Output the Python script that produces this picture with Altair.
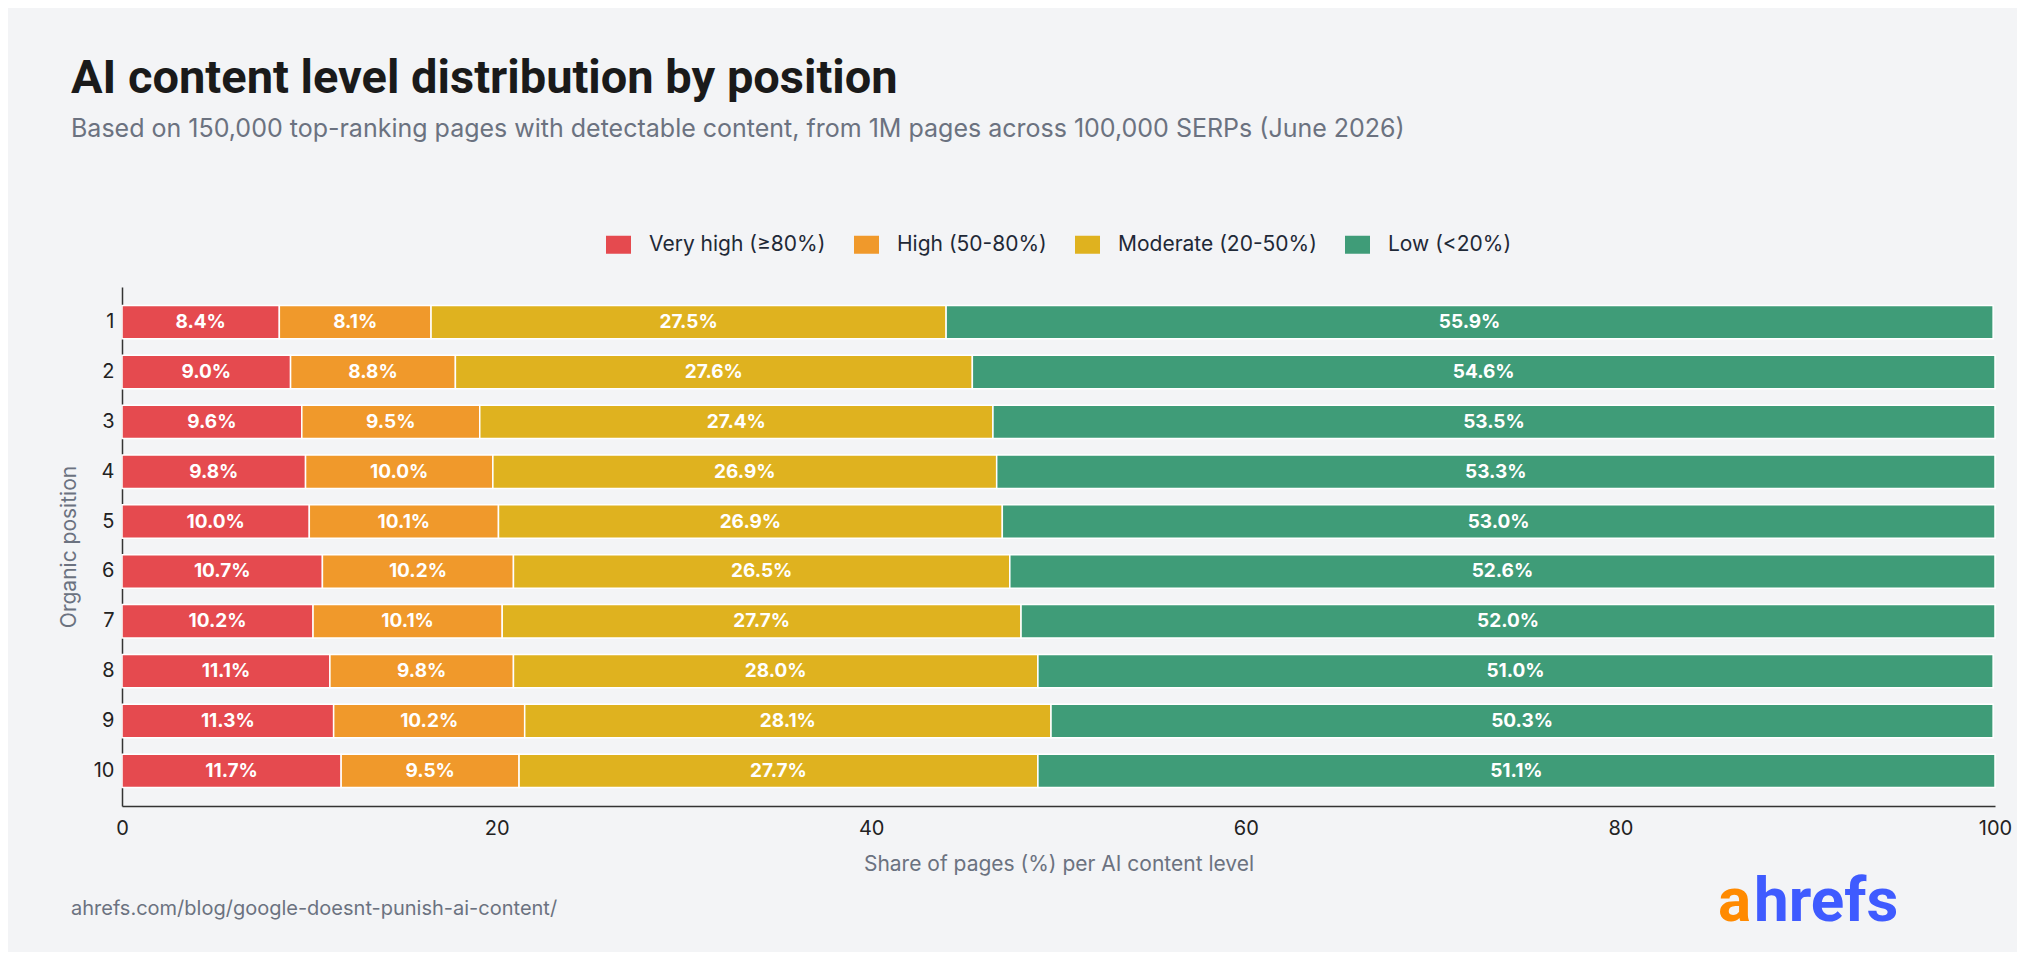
import altair as alt
import pandas as pd

positions = [1, 2, 3, 4, 5, 6, 7, 8, 9, 10]
very_high = [8.4, 9.0, 9.6, 9.8, 10.0, 10.7, 10.2, 11.1, 11.3, 11.7]
high = [8.1, 8.8, 9.5, 10.0, 10.1, 10.2, 10.1, 9.8, 10.2, 9.5]
moderate = [27.5, 27.6, 27.4, 26.9, 26.9, 26.5, 27.7, 28.0, 28.1, 27.7]
low = [55.9, 54.6, 53.5, 53.3, 53.0, 52.6, 52.0, 51.0, 50.3, 51.1]

levels = ["Very high (≥80%)", "High (50-80%)", "Moderate (20-50%)", "Low (<20%)"]
colors = ["#e54a4f", "#f0992b", "#dfb21f", "#3f9c78"]
x_ticks = [0, 20, 40, 60, 80, 100]

title_text = "AI content level distribution by position"
subtitle_text = "Based on 150,000 top-ranking pages with detectable content, from 1M pages across 100,000 SERPs (June 2026)"
footer_text = "ahrefs.com/blog/google-doesnt-punish-ai-content/"
x_title = "Share of pages (%) per AI content level"
y_title = "Organic position"

rows = []
for i, p in enumerate(positions):
    for j, (lvl, series) in enumerate(zip(levels, [very_high, high, moderate, low])):
        rows.append({"position": p, "level": lvl, "value": series[i], "order": j})
df = pd.DataFrame(rows)

FONT = "Inter"
TFONT = "Roboto"

base = (
    alt.Chart(df)
    .transform_stack(
        stack="value",
        groupby=["position"],
        as_=["x0", "x1"],
        sort=[alt.SortField("order", order="ascending")],
    )
    .transform_calculate(
        mid="(datum.x0 + datum.x1) / 2",
        label="format(datum.value, '.1f') + '%'",
    )
)

y_enc = alt.Y(
    "position:O",
    sort=positions,
    scale=alt.Scale(paddingInner=0.33, paddingOuter=0.37),
    axis=alt.Axis(
        title=y_title,
        titleFont=FONT,
        titleFontSize=21,
        titleFontWeight="normal",
        titleColor="#6b7280",
        titlePadding=14,
        labelFont=FONT,
        labelFontSize=20,
        labelColor="#222222",
        labelPadding=8,
        ticks=False,
        domainColor="#333333",
        domainWidth=1.5,
        grid=False,
    ),
)

bars = base.mark_bar(stroke="white", strokeWidth=1.5).encode(
    x=alt.X(
        "x0:Q",
        scale=alt.Scale(domain=[0, 100], nice=False),
        axis=alt.Axis(
            title=x_title,
            values=x_ticks,
            labelFlush=False,
            titleFont=FONT,
            titleFontSize=21,
            titleFontWeight="normal",
            titleColor="#6b7280",
            titlePadding=15,
            labelFont=FONT,
            labelFontSize=20,
            labelColor="#222222",
            labelPadding=12,
            ticks=False,
            domainColor="#333333",
            domainWidth=1.5,
            grid=False,
        ),
    ),
    x2="x1:Q",
    y=y_enc,
    color=alt.Color(
        "level:N",
        scale=alt.Scale(domain=levels, range=colors),
        legend=alt.Legend(
            title=None,
            orient="none",
            direction="horizontal",
            legendX=486,
            legendY=-53,
            symbolType="M-1.25,-0.9H1.25V0.9H-1.25Z",
            symbolSize=400,
            symbolStrokeWidth=0,
            symbolOpacity=1,
            labelFont=FONT,
            labelFontSize=21,
            labelColor="#1f2937",
            labelOffset=20,
            labelLimit=0,
            columnPadding=28,
        ),
    ),
)

labels = base.mark_text(
    color="white", font=FONT, fontWeight="bold", fontSize=19, baseline="middle", align="center"
).encode(
    x="mid:Q",
    y=alt.Y("position:O", sort=positions),
    text="label:N",
)

footer = alt.Chart(pd.DataFrame({"t": [footer_text]})).mark_text(
    align="left", baseline="middle", font=FONT, fontSize=20, color="#6b7280"
).encode(x=alt.value(-51), y=alt.value(622), text="t:N")

logo_a = alt.Chart(pd.DataFrame({"t": ["a"]})).mark_text(
    align="left", baseline="alphabetic", font=TFONT, fontSize=62, fontWeight="bold", color="#ff8a00"
).encode(x=alt.value(1596), y=alt.value(634), text="t:N")

logo_rest = alt.Chart(pd.DataFrame({"t": ["hrefs"]})).mark_text(
    align="left", baseline="alphabetic", font=TFONT, fontSize=62, fontWeight="bold", color="#3f5bff"
).encode(x=alt.value(1632), y=alt.value(634), text="t:N")

chart = (
    alt.layer(bars, labels, footer, logo_a, logo_rest)
    .properties(
        width=1873,
        height=519,
        title=alt.TitleParams(
            text=title_text,
            subtitle=subtitle_text,
            anchor="start",
            frame="group",
            dx=-51,
            offset=91,
            font=TFONT,
            fontSize=47,
            fontWeight="bold",
            color="#1a1a1a",
            subtitleFont=FONT,
            subtitleFontSize=25,
            subtitleColor="#6b7280",
            subtitlePadding=14,
        ),
        autosize=alt.AutoSizeParams(type="none"),
        padding={"left": 114, "top": 279, "right": 22, "bottom": 146},
    )
    .configure(background="#f3f4f6")
    .configure_view(stroke=None)
)

chart.save("out.html", embed_options={"renderer": "svg", "actions": False})
